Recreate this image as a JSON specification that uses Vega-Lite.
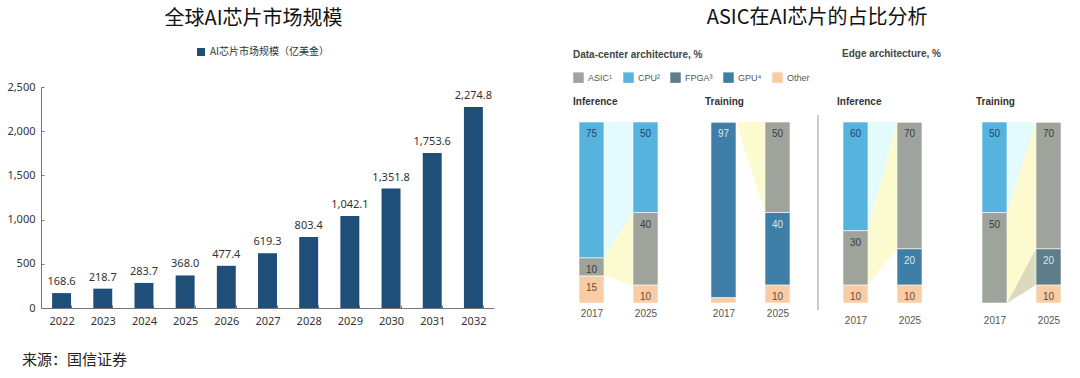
{
  "$schema": "https://vega.github.io/schema/vega-lite/v6.json",
  "background": "white",
  "padding": {"left": 6, "top": 8, "right": 0, "bottom": 4},
  "config": {"view": {"stroke": null}, "font": "Noto Sans"},
  "title": {"text": "来源：国信证券", "orient": "bottom", "anchor": "start", "frame": "bounds", "fontSize": 15, "fontWeight": "normal", "font": "Noto Sans CJK SC", "color": "#222", "offset": 27, "dx": 15},
  "datasets": {
    "chips": [
      {"arch": "Data-center", "mode": "Inference", "year": 2017, "segment": "Other", "value": 15},
      {"arch": "Data-center", "mode": "Inference", "year": 2017, "segment": "ASIC", "value": 10},
      {"arch": "Data-center", "mode": "Inference", "year": 2017, "segment": "CPU", "value": 75},
      {"arch": "Data-center", "mode": "Inference", "year": 2025, "segment": "Other", "value": 10},
      {"arch": "Data-center", "mode": "Inference", "year": 2025, "segment": "ASIC", "value": 40},
      {"arch": "Data-center", "mode": "Inference", "year": 2025, "segment": "CPU", "value": 50},
      {"arch": "Data-center", "mode": "Training", "year": 2017, "segment": "Other", "value": 3},
      {"arch": "Data-center", "mode": "Training", "year": 2017, "segment": "GPU", "value": 97},
      {"arch": "Data-center", "mode": "Training", "year": 2017, "segment": "ASIC", "value": 0},
      {"arch": "Data-center", "mode": "Training", "year": 2025, "segment": "Other", "value": 10},
      {"arch": "Data-center", "mode": "Training", "year": 2025, "segment": "GPU", "value": 40},
      {"arch": "Data-center", "mode": "Training", "year": 2025, "segment": "ASIC", "value": 50},
      {"arch": "Edge", "mode": "Inference", "year": 2017, "segment": "Other", "value": 10},
      {"arch": "Edge", "mode": "Inference", "year": 2017, "segment": "ASIC", "value": 30},
      {"arch": "Edge", "mode": "Inference", "year": 2017, "segment": "CPU", "value": 60},
      {"arch": "Edge", "mode": "Inference", "year": 2025, "segment": "Other", "value": 10},
      {"arch": "Edge", "mode": "Inference", "year": 2025, "segment": "GPU", "value": 20},
      {"arch": "Edge", "mode": "Inference", "year": 2025, "segment": "ASIC", "value": 70},
      {"arch": "Edge", "mode": "Inference", "year": 2025, "segment": "CPU", "value": 0},
      {"arch": "Edge", "mode": "Training", "year": 2017, "segment": "FPGA", "value": 0},
      {"arch": "Edge", "mode": "Training", "year": 2017, "segment": "ASIC", "value": 50},
      {"arch": "Edge", "mode": "Training", "year": 2017, "segment": "CPU", "value": 50},
      {"arch": "Edge", "mode": "Training", "year": 2025, "segment": "Other", "value": 10},
      {"arch": "Edge", "mode": "Training", "year": 2025, "segment": "FPGA", "value": 20},
      {"arch": "Edge", "mode": "Training", "year": 2025, "segment": "ASIC", "value": 70},
      {"arch": "Edge", "mode": "Training", "year": 2025, "segment": "CPU", "value": 0}
    ],
    "stackorder": [
      {"segment": "Other", "rank": 0},
      {"segment": "GPU", "rank": 1},
      {"segment": "FPGA", "rank": 2},
      {"segment": "ASIC", "rank": 3},
      {"segment": "CPU", "rank": 4}
    ]
  },
  "resolve": {"scale": {"color": "independent"}, "legend": {"color": "independent"}},
  "spacing": 79,
  "hconcat": [
    {
      "title": {"text": "全球AI芯片市场规模", "fontSize": 20, "fontWeight": "normal", "font": "Noto Sans CJK SC", "color": "#111", "anchor": "middle", "dx": -14, "offset": 18},
      "width": 453,
      "height": 221,
      "data": {"values": [
        {"year": "2022", "value": 168.6},
        {"year": "2023", "value": 218.7},
        {"year": "2024", "value": 283.7},
        {"year": "2025", "value": 368.0},
        {"year": "2026", "value": 477.4},
        {"year": "2027", "value": 619.3},
        {"year": "2028", "value": 803.4},
        {"year": "2029", "value": 1042.1},
        {"year": "2030", "value": 1351.8},
        {"year": "2031", "value": 1753.6},
        {"year": "2032", "value": 2274.8}
      ]},
      "encoding": {
        "x": {"field": "year", "type": "ordinal", "scale": {"paddingInner": 0.54, "paddingOuter": 0.27}, "axis": {"title": null, "labelAngle": 0, "ticks": true, "tickBand": "extent", "tickSize": -3, "tickColor": "#777", "domainColor": "#777", "labelFontSize": 11, "labelColor": "#333", "labelPadding": 10}},
        "y": {"field": "value", "type": "quantitative", "scale": {"domain": [0, 2500], "nice": false}, "axis": {"title": null, "values": [0, 500, 1000, 1500, 2000, 2500], "format": ",.0f", "grid": false, "ticks": true, "tickSize": -3, "tickColor": "#777", "domainColor": "#777", "labelFontSize": 11, "labelColor": "#333", "labelPadding": 9}}
      },
      "layer": [
        {
          "mark": {"type": "bar"},
          "encoding": {
            "color": {"datum": "AI芯片市场规模（亿美金）", "type": "nominal", "scale": {"range": ["#1f4e79"]}, "legend": {"orient": "none", "legendX": 155, "legendY": -40, "title": null, "symbolType": "square", "symbolSize": 64, "labelFontSize": 10, "labelFont": "Noto Sans CJK SC", "labelColor": "#333"}}
          }
        },
        {
          "mark": {"type": "text", "baseline": "bottom", "dy": -6, "fontSize": 11, "color": "#333"},
          "encoding": {"text": {"field": "value", "type": "quantitative", "format": ",.1f"}}
        }
      ]
    },
    {
      "title": {"text": "ASIC在AI芯片的占比分析", "fontSize": 20, "fontWeight": "normal", "font": "Noto Sans CJK SC", "color": "#111", "anchor": "middle", "offset": 21},
      "spacing": 7,
      "resolve": {"legend": {"color": "independent"}},
      "hconcat": [
        {
          "title": {"text": "Data-center architecture, %", "anchor": "start", "frame": "group", "fontSize": 10, "fontWeight": "bold", "color": "#444", "offset": 12, "font": "Liberation Sans"},
          "data": {"name": "chips"},
          "transform": [
            {"filter": "datum.arch == 'Data-center'"},
            {"lookup": "segment", "from": {"data": {"name": "stackorder"}, "key": "segment", "fields": ["rank"]}},
            {"stack": "value", "groupby": ["mode", "year"], "sort": [{"field": "rank", "order": "ascending"}], "as": ["y0", "y1"]}
          ],
          "facet": {"column": {"field": "mode", "type": "nominal", "header": {"title": null, "labelAnchor": "start", "labelFontWeight": "bold", "labelFontSize": 10, "labelColor": "#333", "labelPadding": -20, "labelFont": "Liberation Sans"}}},
          "spacing": 46,
          "spec": {
            "width": 85,
            "height": 216,
            "encoding": {
              "x": {"field": "year", "type": "quantitative", "scale": {"domain": [2008.4483, 2031.8966], "nice": false, "zero": false}, "axis": {"title": null, "values": [2017, 2025], "format": "d", "domain": false, "ticks": false, "tickSize": 0, "grid": false, "labelFontSize": 10, "labelColor": "#555", "labelFont": "Liberation Sans", "labelPadding": 4, "labelOffset": {"condition": {"test": "datum.value == 2017", "value": -12.5}, "value": 12.5}}},
              "y": {"field": "y0", "type": "quantitative", "scale": {"domain": [0, 119.34], "nice": false}, "axis": null}
            },
            "layer": [
              {"transform": [{"filter": "datum.segment == 'CPU'"}], "mark": {"type": "area", "color": "#e5fafd", "opacity": 1}, "encoding": {"y2": {"field": "y1"}, "detail": {"field": "segment"}}},
              {"transform": [{"filter": "datum.segment == 'ASIC'"}], "mark": {"type": "area", "color": "#fbfbcf", "opacity": 1}, "encoding": {"y2": {"field": "y1"}, "detail": {"field": "segment"}}},
              {"transform": [{"filter": "datum.segment == 'FPGA'"}], "mark": {"type": "area", "color": "#dcd9bd", "opacity": 1}, "encoding": {"y2": {"field": "y1"}, "detail": {"field": "segment"}}},
              {"transform": [{"filter": "datum.year == 2017"}], "mark": {"type": "rect", "xOffset": -25, "x2Offset": 0, "stroke": "#ffffff", "strokeWidth": 0.6}, "encoding": {"x2": {"field": "year"}, "y2": {"field": "y1"}, "color": {"field": "segment", "type": "nominal", "scale": {"domain": ["ASIC", "CPU", "FPGA", "GPU", "Other"], "range": ["#9ea39b", "#55b3dd", "#5d7d88", "#3e7ea7", "#f8cca5"]}, "legend": {"orient": "top", "direction": "horizontal", "title": null, "symbolType": "square", "symbolSize": 110, "symbolStrokeWidth": 0, "labelFontSize": 9, "labelColor": "#555", "labelFont": "Liberation Sans", "columnPadding": 10, "offset": 4, "labelExpr": "datum.label == 'ASIC' ? 'ASIC¹' : datum.label == 'CPU' ? 'CPU²' : datum.label == 'FPGA' ? 'FPGA³' : datum.label == 'GPU' ? 'GPU⁴' : datum.label"}}}},
              {"transform": [{"filter": "datum.year == 2025"}], "mark": {"type": "rect", "xOffset": 0, "x2Offset": 25, "stroke": "#ffffff", "strokeWidth": 0.6}, "encoding": {"x2": {"field": "year"}, "y2": {"field": "y1"}, "color": {"field": "segment", "type": "nominal"}}},
              {"transform": [{"filter": "datum.year == 2017 && datum.value >= 10"}], "mark": {"type": "text", "dx": -12.5, "dy": 7, "baseline": "top", "fontSize": 10, "font": "Liberation Sans"}, "encoding": {"y": {"field": "y1", "type": "quantitative"}, "text": {"field": "value", "type": "quantitative"}, "color": {"condition": [{"test": "datum.segment == 'CPU'", "value": "#1d4866"}, {"test": "datum.segment == 'GPU' || datum.segment == 'FPGA'", "value": "#d4e8f2"}, {"test": "datum.segment == 'Other'", "value": "#6b4b2e"}], "value": "#3c3c3c"}}},
              {"transform": [{"filter": "datum.year == 2025 && datum.value >= 10"}], "mark": {"type": "text", "dx": 12.5, "dy": 7, "baseline": "top", "fontSize": 10, "font": "Liberation Sans"}, "encoding": {"y": {"field": "y1", "type": "quantitative"}, "text": {"field": "value", "type": "quantitative"}, "color": {"condition": [{"test": "datum.segment == 'CPU'", "value": "#1d4866"}, {"test": "datum.segment == 'GPU' || datum.segment == 'FPGA'", "value": "#d4e8f2"}, {"test": "datum.segment == 'Other'", "value": "#6b4b2e"}], "value": "#3c3c3c"}}}
            ]
          }
        },
        {
          "title": {"text": "Edge architecture, %", "anchor": "start", "frame": "group", "fontSize": 10, "fontWeight": "bold", "color": "#444", "offset": 28, "dx": 5, "font": "Liberation Sans"},
          "data": {"name": "chips"},
          "transform": [
            {"filter": "datum.arch == 'Edge'"},
            {"lookup": "segment", "from": {"data": {"name": "stackorder"}, "key": "segment", "fields": ["rank"]}},
            {"stack": "value", "groupby": ["mode", "year"], "sort": [{"field": "rank", "order": "ascending"}], "as": ["y0", "y1"]}
          ],
          "facet": {"column": {"field": "mode", "type": "nominal", "header": {"title": null, "labelAnchor": "start", "labelFontWeight": "bold", "labelFontSize": 10, "labelColor": "#333", "labelPadding": -20, "labelFont": "Liberation Sans"}}},
          "spacing": 53,
          "spec": {
            "width": 85,
            "height": 216,
            "encoding": {
              "x": {"field": "year", "type": "quantitative", "scale": {"domain": [2008.4483, 2031.8966], "nice": false, "zero": false}, "axis": {"title": null, "values": [2017, 2025], "format": "d", "domain": false, "ticks": false, "tickSize": 0, "grid": false, "labelFontSize": 10, "labelColor": "#555", "labelFont": "Liberation Sans", "labelPadding": 4, "labelOffset": {"condition": {"test": "datum.value == 2017", "value": -12.5}, "value": 12.5}}},
              "y": {"field": "y0", "type": "quantitative", "scale": {"domain": [0, 119.34], "nice": false}, "axis": null}
            },
            "layer": [
              {"transform": [{"filter": "datum.mode == 'Inference' && datum.year == 2017 && datum.segment == 'ASIC'"}], "mark": {"type": "rule", "color": "#999", "strokeWidth": 1, "clip": false}, "encoding": {"x": {"datum": 2003.2}, "y": {"datum": -3.9}, "y2": {"datum": 103.9}}},
              {"transform": [{"filter": "datum.segment == 'CPU'"}], "mark": {"type": "area", "color": "#e5fafd", "opacity": 1}, "encoding": {"y2": {"field": "y1"}, "detail": {"field": "segment"}}},
              {"transform": [{"filter": "datum.segment == 'ASIC'"}], "mark": {"type": "area", "color": "#fbfbcf", "opacity": 1}, "encoding": {"y2": {"field": "y1"}, "detail": {"field": "segment"}}},
              {"transform": [{"filter": "datum.segment == 'FPGA'"}], "mark": {"type": "area", "color": "#dcd9bd", "opacity": 1}, "encoding": {"y2": {"field": "y1"}, "detail": {"field": "segment"}}},
              {"transform": [{"filter": "datum.year == 2017"}], "mark": {"type": "rect", "xOffset": -25, "x2Offset": 0, "stroke": "#ffffff", "strokeWidth": 0.6}, "encoding": {"x2": {"field": "year"}, "y2": {"field": "y1"}, "color": {"field": "segment", "type": "nominal", "scale": {"domain": ["ASIC", "CPU", "FPGA", "GPU", "Other"], "range": ["#9ea39b", "#55b3dd", "#5d7d88", "#3e7ea7", "#f8cca5"]}, "legend": null}}},
              {"transform": [{"filter": "datum.year == 2025"}], "mark": {"type": "rect", "xOffset": 0, "x2Offset": 25, "stroke": "#ffffff", "strokeWidth": 0.6}, "encoding": {"x2": {"field": "year"}, "y2": {"field": "y1"}, "color": {"field": "segment", "type": "nominal", "legend": null}}},
              {"transform": [{"filter": "datum.year == 2017 && datum.value >= 10"}], "mark": {"type": "text", "dx": -12.5, "dy": 7, "baseline": "top", "fontSize": 10, "font": "Liberation Sans"}, "encoding": {"y": {"field": "y1", "type": "quantitative"}, "text": {"field": "value", "type": "quantitative"}, "color": {"condition": [{"test": "datum.segment == 'CPU'", "value": "#1d4866"}, {"test": "datum.segment == 'GPU' || datum.segment == 'FPGA'", "value": "#d4e8f2"}, {"test": "datum.segment == 'Other'", "value": "#6b4b2e"}], "value": "#3c3c3c"}}},
              {"transform": [{"filter": "datum.year == 2025 && datum.value >= 10"}], "mark": {"type": "text", "dx": 12.5, "dy": 7, "baseline": "top", "fontSize": 10, "font": "Liberation Sans"}, "encoding": {"y": {"field": "y1", "type": "quantitative"}, "text": {"field": "value", "type": "quantitative"}, "color": {"condition": [{"test": "datum.segment == 'CPU'", "value": "#1d4866"}, {"test": "datum.segment == 'GPU' || datum.segment == 'FPGA'", "value": "#d4e8f2"}, {"test": "datum.segment == 'Other'", "value": "#6b4b2e"}], "value": "#3c3c3c"}}}
            ]
          }
        }
      ]
    }
  ]
}
